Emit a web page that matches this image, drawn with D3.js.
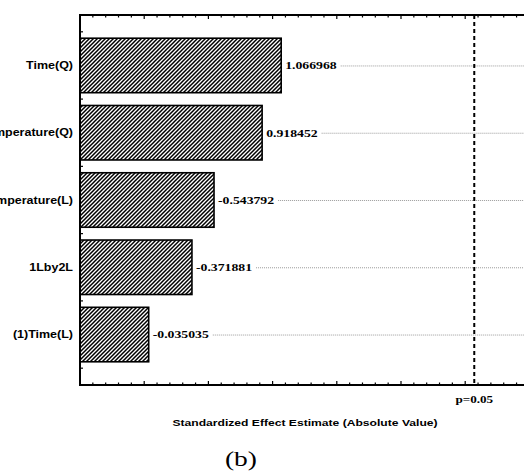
<!DOCTYPE html>
<html>
<head>
<meta charset="utf-8">
<script src="https://cdn.jsdelivr.net/npm/d3@7"></script>
<style>
  html, body { margin: 0; padding: 0; background: #fff; }
  svg { display: block; }
</style>
</head>
<body>
<div id="chart"></div>
<script>
// ---- data ----
const categories = ["Time(Q)", "Temperature(Q)", "(2)Temperature(L)", "1Lby2L", "(1)Time(L)"];
const effects = [1.066968, 0.918452, -0.543792, -0.371881, -0.035035];
const xDomain = [-0.5, 3.0];
const pCritical = 2.5706;
const pLabel = "p=0.05";
const xTitle = "Standardized Effect Estimate (Absolute Value)";
const panelLabel = "(b)";

// ---- layout ----
const W = 524, H = 473;
const plot = { left: 80, right: 529.4, top: 15, bottom: 385 };
const stretch = 1.25;

const svg = d3.select("#chart").append("svg")
  .attr("width", W).attr("height", H);

const defs = svg.append("defs");
const pat = defs.append("pattern")
  .attr("id", "hatch").attr("patternUnits", "userSpaceOnUse")
  .attr("width", 4).attr("height", 4);
pat.append("rect").attr("width", 4).attr("height", 4).attr("fill", "#fff");
pat.append("path")
  .attr("d", "M-1,1 L1,-1 M0,4 L4,0 M3,5 L5,3")
  .attr("stroke", "#000").attr("stroke-width", 1.5);

const x = d3.scaleLinear().domain(xDomain).range([plot.left, plot.right]);
const y = d3.scalePoint().domain(categories).range([plot.top, plot.bottom]).padding(0.75);
const step = y.step();
const barH = step * 0.81;

const data = categories.map((c, i) => ({ cat: c, v: effects[i] }));

// dotted guide lines + value labels
const labels = svg.append("g");
data.forEach(d => {
  const xe = x(Math.abs(d.v));
  const yc = y(d.cat);
  const t = labels.append("text")
    .attr("transform", `translate(${xe + 4},${yc}) scale(${stretch},1)`)
    .attr("dy", "0.35em")
    .attr("font-family", "'Liberation Serif','Times New Roman',serif")
    .attr("font-weight", "bold")
    .attr("font-size", 11)
    .attr("fill", "#000")
    .text(d.v.toFixed(6));
  const tw = t.node().getComputedTextLength() * stretch;
  labels.append("line")
    .attr("x1", xe + 4 + tw + 4).attr("x2", W)
    .attr("y1", yc + 0.5).attr("y2", yc + 0.5)
    .attr("stroke", "#9a9a9a").attr("stroke-width", 1)
    .attr("stroke-dasharray", "1,1");
});

// bars
svg.append("g").selectAll("rect").data(data).join("rect")
  .attr("x", x(xDomain[0]))
  .attr("y", d => y(d.cat) - barH / 2)
  .attr("width", d => x(Math.abs(d.v)) - x(xDomain[0]))
  .attr("height", barH)
  .attr("fill", "url(#hatch)")
  .attr("stroke", "#000").attr("stroke-width", 1.6);

// p=0.05 critical line
svg.append("line")
  .attr("x1", x(pCritical)).attr("x2", x(pCritical))
  .attr("y1", plot.top).attr("y2", plot.bottom)
  .attr("stroke", "#000").attr("stroke-width", 2)
  .attr("stroke-dasharray", "4,3");

// axes
const ticks = d3.range(0, 36).map(i => xDomain[0] + i * 0.1);
const isMajor = v => Math.abs(Math.round(v * 2) - v * 2) < 1e-6;
const axisG = svg.append("g").attr("stroke", "#000");
ticks.forEach(v => {
  const len = isMajor(v) ? 4 : 2.5;
  axisG.append("line").attr("x1", x(v)).attr("x2", x(v))
    .attr("y1", plot.top).attr("y2", plot.top + len).attr("stroke-width", 1.2);
  axisG.append("line").attr("x1", x(v)).attr("x2", x(v))
    .attr("y1", plot.bottom).attr("y2", plot.bottom - len).attr("stroke-width", 1.2);
});
// left axis ticks at category boundaries
const bounds = categories.map(c => y(c) - step / 2).concat([y(categories[categories.length - 1]) + step / 2]);
bounds.forEach(b => {
  axisG.append("line").attr("x1", plot.left).attr("x2", plot.left + 3)
    .attr("y1", b).attr("y2", b).attr("stroke-width", 1.2);
});
axisG.append("line").attr("x1", plot.left).attr("x2", W)
  .attr("y1", plot.top).attr("y2", plot.top).attr("stroke-width", 2);
axisG.append("line").attr("x1", plot.left).attr("x2", W)
  .attr("y1", plot.bottom).attr("y2", plot.bottom).attr("stroke-width", 2);
axisG.append("line").attr("x1", plot.left).attr("x2", plot.left)
  .attr("y1", plot.top - 1).attr("y2", plot.bottom + 1).attr("stroke-width", 2);

// category labels
svg.append("g").selectAll("text").data(categories).join("text")
  .attr("transform", d => `translate(73,${y(d)}) scale(${stretch},1)`)
  .attr("dy", "0.35em")
  .attr("text-anchor", "end")
  .attr("font-family", "'Liberation Sans',Arial,sans-serif")
  .attr("font-weight", "bold")
  .attr("font-size", 10)
  .attr("fill", "#000")
  .text(d => d);

// p label
svg.append("text")
  .attr("transform", `translate(${x(pCritical)},403) scale(${stretch},1)`)
  .attr("text-anchor", "middle")
  .attr("font-family", "'Liberation Serif','Times New Roman',serif")
  .attr("font-weight", "bold")
  .attr("font-size", 10.5)
  .text(pLabel);

// axis title
svg.append("text")
  .attr("transform", `translate(305,426) scale(${stretch},1)`)
  .attr("text-anchor", "middle")
  .attr("font-family", "'Liberation Sans',Arial,sans-serif")
  .attr("font-weight", "bold")
  .attr("font-size", 9.7)
  .text(xTitle);

// panel label
svg.append("text")
  .attr("transform", `translate(241,466) scale(${stretch},1)`)
  .attr("text-anchor", "middle")
  .attr("font-family", "'Liberation Serif','Times New Roman',serif")
  .attr("font-size", 22)
  .text(panelLabel);
</script>
</body>
</html>
